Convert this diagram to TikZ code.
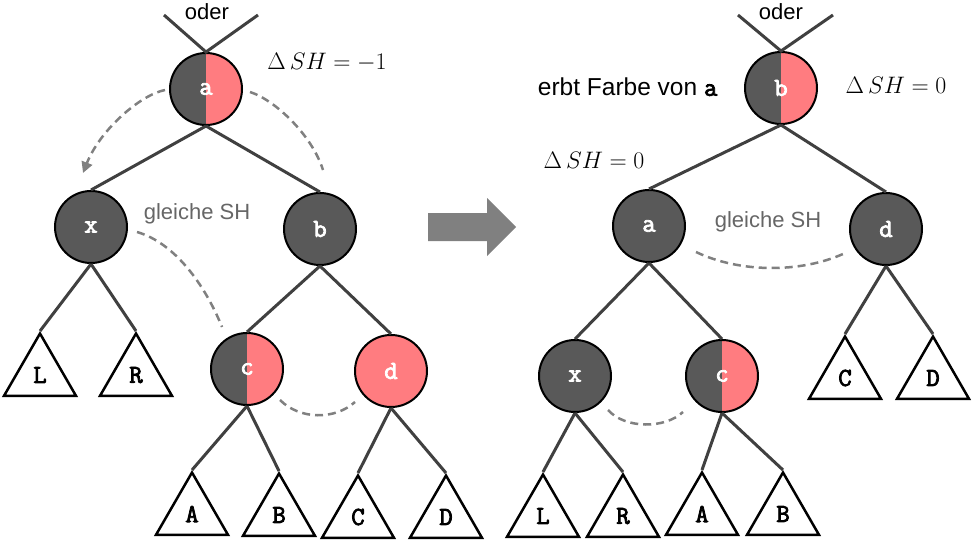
\documentclass[tikz,border=0pt]{standalone}
\usepackage[no-math]{fontspec}
\usepackage{graphicx}
\usepackage{tikz}
\setmainfont{Liberation Sans}
\newfontfamily\dickmono{Latin Modern Mono}[FakeBold=3]
\usetikzlibrary{shapes.geometric,arrows.meta}

\definecolor{knotengrau}{HTML}{595959}
\definecolor{knotenrot}{HTML}{FF7C80}
\definecolor{kantengrau}{HTML}{404040}
\definecolor{strichgrau}{HTML}{808080}
\definecolor{textgrau}{HTML}{666666}

\newcommand{\knotenfont}{\fontsize{26}{26}\selectfont\dickmono}
\newcommand{\schriftfont}{\fontsize{22}{26}\selectfont}
\newcommand{\dsh}[1]{\scalebox{1.15}{\huge$\Delta\,SH = #1$}}

\tikzset{
  schwarz/.style={circle, draw=black, line width=2pt, fill=knotengrau,
    minimum size=72pt, inner sep=0pt, font=\knotenfont, text=white},
  rot/.style={schwarz, fill=knotenrot},
  halb/.style={schwarz, path picture={\fill[knotenrot]
    (path picture bounding box.north) rectangle (path picture bounding box.south east);}},
  baum/.style={regular polygon, regular polygon sides=3, draw=black, line width=2.5pt,
    minimum size=83pt, inner sep=0pt, font=\knotenfont, text=black},
  kante/.style={draw=kantengrau, line width=3pt},
  strich/.style={draw=strichgrau, dash pattern=on 8pt off 5pt, line width=2.5pt},
}

\begin{document}
\begin{tikzpicture}[x=1pt,y=-1pt]

      \useasboundingbox (0,0) rectangle (978,543);

      % draw left tree
      \node[halb] (la) at (206,89) {a};
      \node[schwarz] (lx) at (91,227) {x};
      \node[schwarz] (lb) at (320,229) {b};
      \node[halb] (lc) at (247,369) {c};
      \node[rot] (ld) at (391,371) {d};
      \node[baum] (lL) at (40,375) {L};
      \node[baum] (lR) at (136,375) {R};
      \node[baum] (lA) at (192,514) {A};
      \node[baum] (lB) at (279,515) {B};
      \node[baum] (lC) at (358,517) {C};
      \node[baum] (lD) at (446,517) {D};

      % draw right tree
      \node[halb] (rb) at (781,88) {b};
      \node[schwarz] (ra) at (649,226) {a};
      \node[schwarz] (rd) at (886,229) {d};
      \node[schwarz] (rx) at (575,376) {x};
      \node[halb] (rc) at (722,376) {c};
      \node[baum] (rC) at (845,378) {C};
      \node[baum] (rD) at (933,378) {D};
      \node[baum] (rL) at (543,516) {L};
      \node[baum] (rR) at (623,516) {R};
      \node[baum] (rA) at (702,514) {A};
      \node[baum] (rB) at (783,514) {B};

      % draw edges
      \foreach \von/\nach in {la/lx,la/lb,lb/lc,lb/ld,rb/ra,rb/rd,ra/rx,ra/rc}
      \draw[kante] (\von.south) -- (\nach.north);
      \foreach \von/\nach in {lx/lL,lx/lR,lc/lA,lc/lB,ld/lC,ld/lD,rd/rC,rd/rD,rx/rL,rx/rR,rc/rA,rc/rB}
      \draw[kante] (\von.south) -- (\nach.corner 1);

      % draw "oder" lines
      \coordinate (lo1) at (164,15);
      \coordinate (lo2) at (258,15);
      \coordinate (ro1) at (738,15);
      \coordinate (ro2) at (833,15);
      \draw[kante] (lo1) -- (la.north) -- (lo2);
      \draw[kante] (ro1) -- (rb.north) -- (ro2);
      \node[font=\schriftfont] (loder) at (207,12) {oder};
      \node[font=\schriftfont] (roder) at (781,12) {oder};

      % draw labels
      \node (ldsh) at (327,62) {\dsh{-1}};
      \node (rdsh) at (896,85) {\dsh{0}};
      \node (radsh) at (594,160) {\dsh{0}};
      \node[font=\fontsize{24.5}{28}\selectfont, anchor=east] (erbt) at (721,87) {erbt Farbe von {\knotenfont a}};
      \node[font=\schriftfont, text=textgrau] (lgleich) at (197,214) {gleiche SH};
      \node[font=\schriftfont, text=textgrau] (rgleich) at (768,222) {gleiche SH};

      % draw dashed curves
      \draw[strich,-{Triangle[length=11pt,width=11pt]}] (165,90) .. controls (140,95) and (100,130) .. (83,173);
      \draw[strich] (250,92) .. controls (275,100) and (312,135) .. (323,170);
      \draw[strich] (137,232) .. controls (175,243) and (205,285) .. (222,327);
      \draw[strich] (280,400) .. controls (300,420) and (335,420) .. (355,402);
      \draw[strich] (696,252) .. controls (740,273) and (800,273) .. (843,254);
      \draw[strich] (608,410) .. controls (625,429) and (665,429) .. (683,412);

      % draw big arrow
      \fill[strichgrau] (428,213) -- (487,213) -- (487,198) -- (516,227) -- (487,256) -- (487,241) -- (428,241) -- cycle;

     \end{tikzpicture}
\end{document}
